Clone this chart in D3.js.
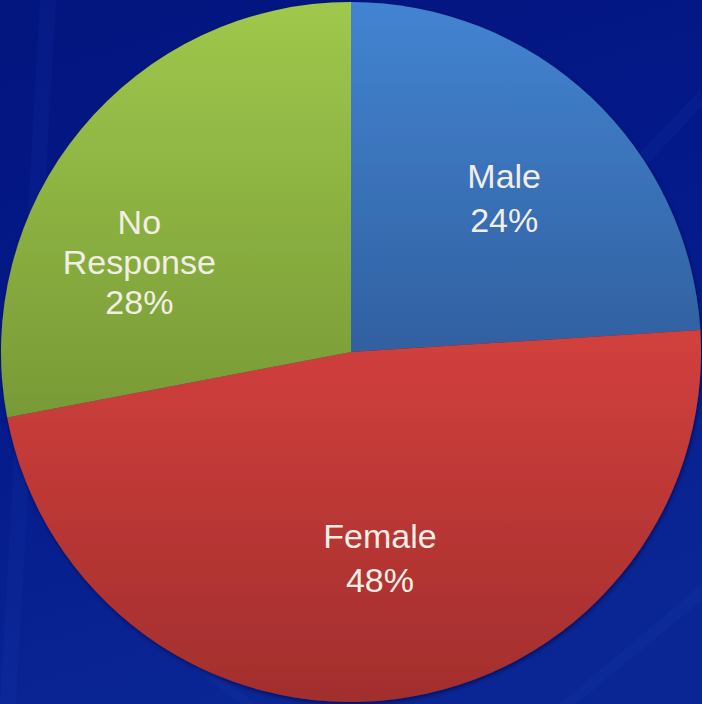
<!DOCTYPE html>
<html>
<head>
<meta charset="utf-8">
<script src="https://cdn.jsdelivr.net/npm/d3@7"></script>
<style>
  html, body { margin: 0; padding: 0; background: #041a88; }
  svg { display: block; }
</style>
</head>
<body>
<svg id="chart" width="702" height="704"></svg>
<script>
// Survey responses by gender
const categories = ["Male", "Female", "No Response"];
const values = [24, 48, 28];
const labelLines = [["Male", "24%"], ["Female", "48%"], ["No", "Response", "28%"]];
const topColors = ["#4384d2", "#d2403d", "#9fc84c"];
const bottomColors = ["#3160a0", "#a22e2d", "#789a36"];

const W = 702, H = 704;
const cx = 351, cy = 352, R = 350;

// label placement: centroid on a ring, then a small per-slice nudge
const labelRadius = 215;
const labelNudge = [[6, 15], [2, 5], [-46, 59]];

const svg = d3.select("#chart");
const defs = svg.append("defs");

// background
const bg = defs.append("linearGradient").attr("id", "bg")
  .attr("x1", 0).attr("y1", 0).attr("x2", 0.3).attr("y2", 1);
bg.append("stop").attr("offset", 0).attr("stop-color", "#03157e");
bg.append("stop").attr("offset", 0.5).attr("stop-color", "#04198a");
bg.append("stop").attr("offset", 1).attr("stop-color", "#0a2694");
svg.append("rect").attr("width", W).attr("height", H).attr("fill", "url(#bg)");

// faint diagonal streaks in the backdrop
const streaks = [
  [[40, 0], [56, 0], [16, 704], [0, 704]],
  [[700, 90], [702, 106], [380, 450], [372, 434]],
  [[240, 704], [256, 704], [60, 560], [50, 552]],
  [[560, 704], [576, 704], [702, 600], [702, 584]]
];
svg.append("g").selectAll("polygon").data(streaks).join("polygon")
  .attr("points", d => d.map(p => p.join(",")).join(" "))
  .attr("fill", "#2a50c0").attr("opacity", 0.1);

// soft shadow under the pie
const shadow = defs.append("filter").attr("id", "shadow")
  .attr("x", -0.1).attr("y", -0.1).attr("width", 1.2).attr("height", 1.2);
shadow.append("feDropShadow").attr("dx", 1).attr("dy", 2).attr("stdDeviation", 2)
  .attr("flood-color", "#000030").attr("flood-opacity", 0.6);

// per-slice vertical gradients
categories.forEach((c, i) => {
  const g = defs.append("linearGradient").attr("id", "grad" + i)
    .attr("x1", 0).attr("y1", 0).attr("x2", 0).attr("y2", 1);
  g.append("stop").attr("offset", 0).attr("stop-color", topColors[i]);
  g.append("stop").attr("offset", 1).attr("stop-color", bottomColors[i]);
});

const pie = d3.pie().sort(null).value(d => d)(values);
const arc = d3.arc().innerRadius(0).outerRadius(R);
const labelArc = d3.arc().innerRadius(labelRadius).outerRadius(labelRadius);

const g = svg.append("g").attr("transform", `translate(${cx},${cy})`);
g.append("g").attr("filter", "url(#shadow)")
  .selectAll("path").data(pie).join("path")
  .attr("d", arc)
  .attr("fill", (d, i) => `url(#grad${i})`);

const labels = g.selectAll("text.lbl").data(pie).join("text")
  .attr("class", "lbl")
  .attr("text-anchor", "middle")
  .attr("font-family", "'Liberation Sans', Arial, sans-serif")
  .attr("font-size", 34)
  .attr("fill", "#f1efe5")
  .attr("transform", (d, i) => {
    const [x, y] = labelArc.centroid(d);
    return `translate(${x + labelNudge[i][0]},${y + labelNudge[i][1]})`;
  });
labels.each(function(d, i) {
  const lines = labelLines[i];
  const lineH = lines.length > 2 ? 40 : 44;
  const t = d3.select(this);
  const y0 = -((lines.length - 1) * lineH) / 2;
  lines.forEach((s, k) => {
    t.append("tspan").attr("x", 0).attr("y", y0 + k * lineH).text(s);
  });
});
</script>
</body>
</html>
